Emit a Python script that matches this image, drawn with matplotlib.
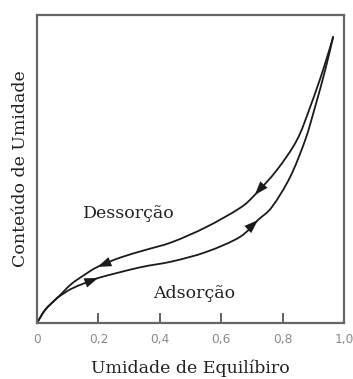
import matplotlib
matplotlib.use("Agg")
import matplotlib.pyplot as plt
from matplotlib.path import Path
from matplotlib.patches import PathPatch

# Desorption (upper branch)
des_x = [0.0, 0.026, 0.059, 0.069, 0.110, 0.157, 0.197, 0.270, 0.353, 0.441, 0.552, 0.660, 0.709, 0.781, 0.846, 0.889, 0.931, 0.964]
des_y = [0.0, 0.042, 0.075, 0.084, 0.125, 0.158, 0.182, 0.212, 0.237, 0.263, 0.312, 0.373, 0.416, 0.497, 0.594, 0.701, 0.821, 0.929]
# Adsorption (lower branch)
ads_x = [0.0, 0.026, 0.059, 0.069, 0.110, 0.157, 0.199, 0.333, 0.441, 0.552, 0.660, 0.719, 0.765, 0.824, 0.873, 0.905, 0.938, 0.964]
ads_y = [0.0, 0.042, 0.075, 0.084, 0.110, 0.130, 0.146, 0.180, 0.200, 0.231, 0.279, 0.334, 0.377, 0.474, 0.594, 0.701, 0.821, 0.929]

xtick_values = [0, 0.2, 0.4, 0.6, 0.8, 1.0]
xtick_labels = ["0", "0,2", "0,4", "0,6", "0,8", "1,0"]

fig = plt.figure(figsize=(3.53, 3.79), dpi=100)
ax = fig.add_axes([0.105, 0.148, 0.87, 0.812])

lc = "#1a1a1a"

def smooth_path(xs, ys):
    # Catmull-Rom through the read points, expressed as cubic Bezier segments
    pts = list(zip(xs, ys))
    n = len(pts)
    verts = [pts[0]]
    codes = [Path.MOVETO]
    for k in range(n - 1):
        p0 = pts[k - 1] if k > 0 else pts[k]
        p1 = pts[k]
        p2 = pts[k + 1]
        p3 = pts[k + 2] if k + 2 < n else pts[k + 1]
        c1 = (p1[0] + (p2[0] - p0[0]) / 6, p1[1] + (p2[1] - p0[1]) / 6)
        c2 = (p2[0] - (p3[0] - p1[0]) / 6, p2[1] - (p3[1] - p1[1]) / 6)
        verts += [c1, c2, p2]
        codes += [Path.CURVE4] * 3
    return Path(verts, codes)

for xs, ys in ((des_x, des_y), (ads_x, ads_y)):
    ax.add_patch(PathPatch(smooth_path(xs, ys), fill=False, edgecolor=lc, lw=1.3,
                           capstyle="round", joinstyle="round"))

def arrow(xs, ys, i, j):
    ax.annotate("", xy=(xs[j], ys[j]), xytext=(xs[i], ys[i]),
                arrowprops=dict(arrowstyle="-|>,head_length=0.9,head_width=0.32", color=lc,
                                lw=0, mutation_scale=11, shrinkA=0, shrinkB=0))

# desorption arrows point towards lower humidity
arrow(des_x, des_y, 7, 6)
arrow(des_x, des_y, 13, 12)
# adsorption arrows point towards higher humidity
arrow(ads_x, ads_y, 5, 6)
arrow(ads_x, ads_y, 10, 11)

ax.set_xlim(0, 1.0)
ax.set_ylim(0, 1.0)
ax.set_xticks(xtick_values)
ax.set_xticklabels(xtick_labels)
ax.set_yticks([])
ax.tick_params(axis="x", direction="in", length=7, width=1.3, color="#555555",
               labelsize=8.8, labelcolor="#8a8a8a", pad=7)
for t in ax.xaxis.get_major_ticks():
    if t.get_loc() in (0, 1.0):
        t.tick1line.set_visible(False)
for s in ax.spines.values():
    s.set_color("#666666")
    s.set_linewidth(1.6)

serif = ["DejaVu Serif"]
ax.text(0.30, 0.357, "Dessorção", ha="center", va="center", fontsize=12.5,
        family=serif, color="#222222")
ax.text(0.51, 0.095, "Adsorção", ha="center", va="center", fontsize=12.5,
        family=serif, color="#222222")
ax.set_xlabel("Umidade de Equilíbiro", family=serif, fontsize=12.5, color="#222222", labelpad=10)
ax.set_ylabel("Conteúdo de Umidade", family=serif, fontsize=12.5, color="#222222", labelpad=6)

fig.savefig("out.png", dpi=100)
